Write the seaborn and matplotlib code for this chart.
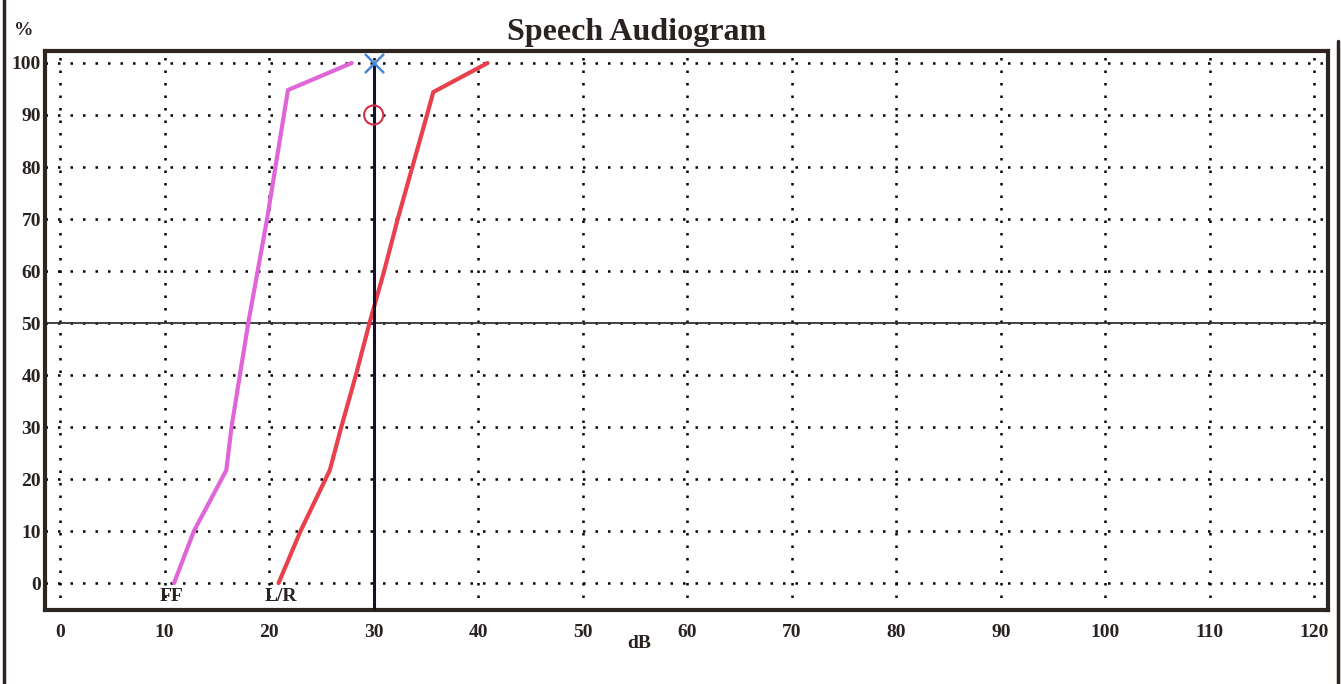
import numpy as np
import pandas as pd
import matplotlib
matplotlib.use("Agg")
import matplotlib.pyplot as plt
import seaborn as sns
from matplotlib.lines import Line2D

# speech discrimination curves (dB, %)
ff_db = [10.9, 12.8, 15.9, 16.4, 17.2, 18.0, 18.9, 19.8, 20.6, 21.8, 27.9]
ff_pct = [0, 10, 21.7, 30, 40, 50, 60, 70, 80, 94.8, 100]
lr_db = [20.9, 23.0, 25.8, 26.9, 28.3, 29.6, 31.0, 32.3, 33.7, 35.1, 35.7, 40.9]
lr_pct = [0, 10, 21.7, 30, 40, 50, 60, 70, 80, 90, 94.4, 100]

# measured points on the 30 dB line
x_mark_db, x_mark_pct = [30], [100]
o_mark_db, o_mark_pct = [30], [90]
srt_db = 30

curve_labels = ["FF", "L/R"]
curve_label_pos = [(10.7, -2.5), (21.1, -2.5)]
x_ticks = list(range(0, 121, 10))
y_ticks = list(range(0, 101, 10))

df = pd.concat([
    pd.DataFrame({"db": ff_db, "pct": ff_pct, "curve": "FF"}),
    pd.DataFrame({"db": lr_db, "pct": lr_pct, "curve": "L/R"}),
], ignore_index=True)

sns.set_style("white")
plt.rcParams["font.family"] = ["Liberation Serif", "DejaVu Serif"]
plt.rcParams["font.weight"] = "bold"

fig = plt.figure(figsize=(13.41, 6.84), dpi=100)
ax = fig.add_axes([0.0336, 0.108, 0.9567, 0.8174])

ink = "#2e2420"
text_col = "#2a2220"
dotted = (0, (1, 4))

# dotted grid
for xv in x_ticks:
    ax.axvline(xv, color="black", lw=1.8, ls=dotted, zorder=1)
for yv in y_ticks:
    ax.axhline(yv, color="black", lw=1.8, ls=dotted, zorder=1)
ax.axhline(50, color="#333333", lw=1.3, zorder=2)

sns.lineplot(data=df, x="db", y="pct", hue="curve",
             palette={"FF": "#e065d8", "L/R": "#e8404c"},
             sort=False, estimator=None, lw=3, legend=False, ax=ax, zorder=3)

# threshold line at 30 dB
ax.plot([srt_db + 0.15, srt_db + 0.15], [-5.2, 50], color="#d0306a", lw=1.2, zorder=4)
ax.plot([srt_db, srt_db], [-5.2, 100], color="#15102e", lw=2.2, zorder=5)

ax.scatter(x_mark_db, x_mark_pct, marker="x", s=190, color="#4a88d4", lw=1.8, zorder=6)
ax.scatter(o_mark_db, o_mark_pct, marker="o", s=190, facecolors="none",
           edgecolors="#d03048", lw=1.5, zorder=6)

for lab, (px, py) in zip(curve_labels, curve_label_pos):
    ax.text(px, py, lab, ha="center", va="center", fontsize=14,
            fontweight="bold", color=text_col, zorder=7)

ax.set_xlim(-1.44, 121.3)
ax.set_ylim(-5.2, 102.3)
ax.set_xticks(x_ticks)
ax.set_yticks(y_ticks)
ax.tick_params(length=0, labelsize=14, colors=text_col, pad=10)
ax.tick_params(axis="y", pad=3)
for lbl in ax.get_xticklabels() + ax.get_yticklabels():
    lbl.set_fontweight("bold")
ax.set_xlabel("")
ax.set_ylabel("")

for side in ["left", "bottom", "top", "right"]:
    ax.spines[side].set_visible(True)
    ax.spines[side].set_color(ink)
    ax.spines[side].set_linewidth(3)

fig.text(0.475, 0.952, "Speech Audiogram", ha="center", va="center",
         fontsize=23, fontweight="bold", color=text_col)
fig.text(0.018, 0.956, "%", ha="center", va="center", fontsize=14,
         fontweight="bold", color=text_col)
fig.text(0.477, 0.059, "dB", ha="center", va="center", fontsize=14,
         fontweight="bold", color=text_col)

# outer frame edges of the printed form
fig.add_artist(Line2D([0.003, 0.003], [0, 1], color=ink, lw=2.5))
fig.add_artist(Line2D([0.9975, 0.9975], [0, 0.94], color=ink, lw=2.5))

fig.savefig("out.png", dpi=100)
